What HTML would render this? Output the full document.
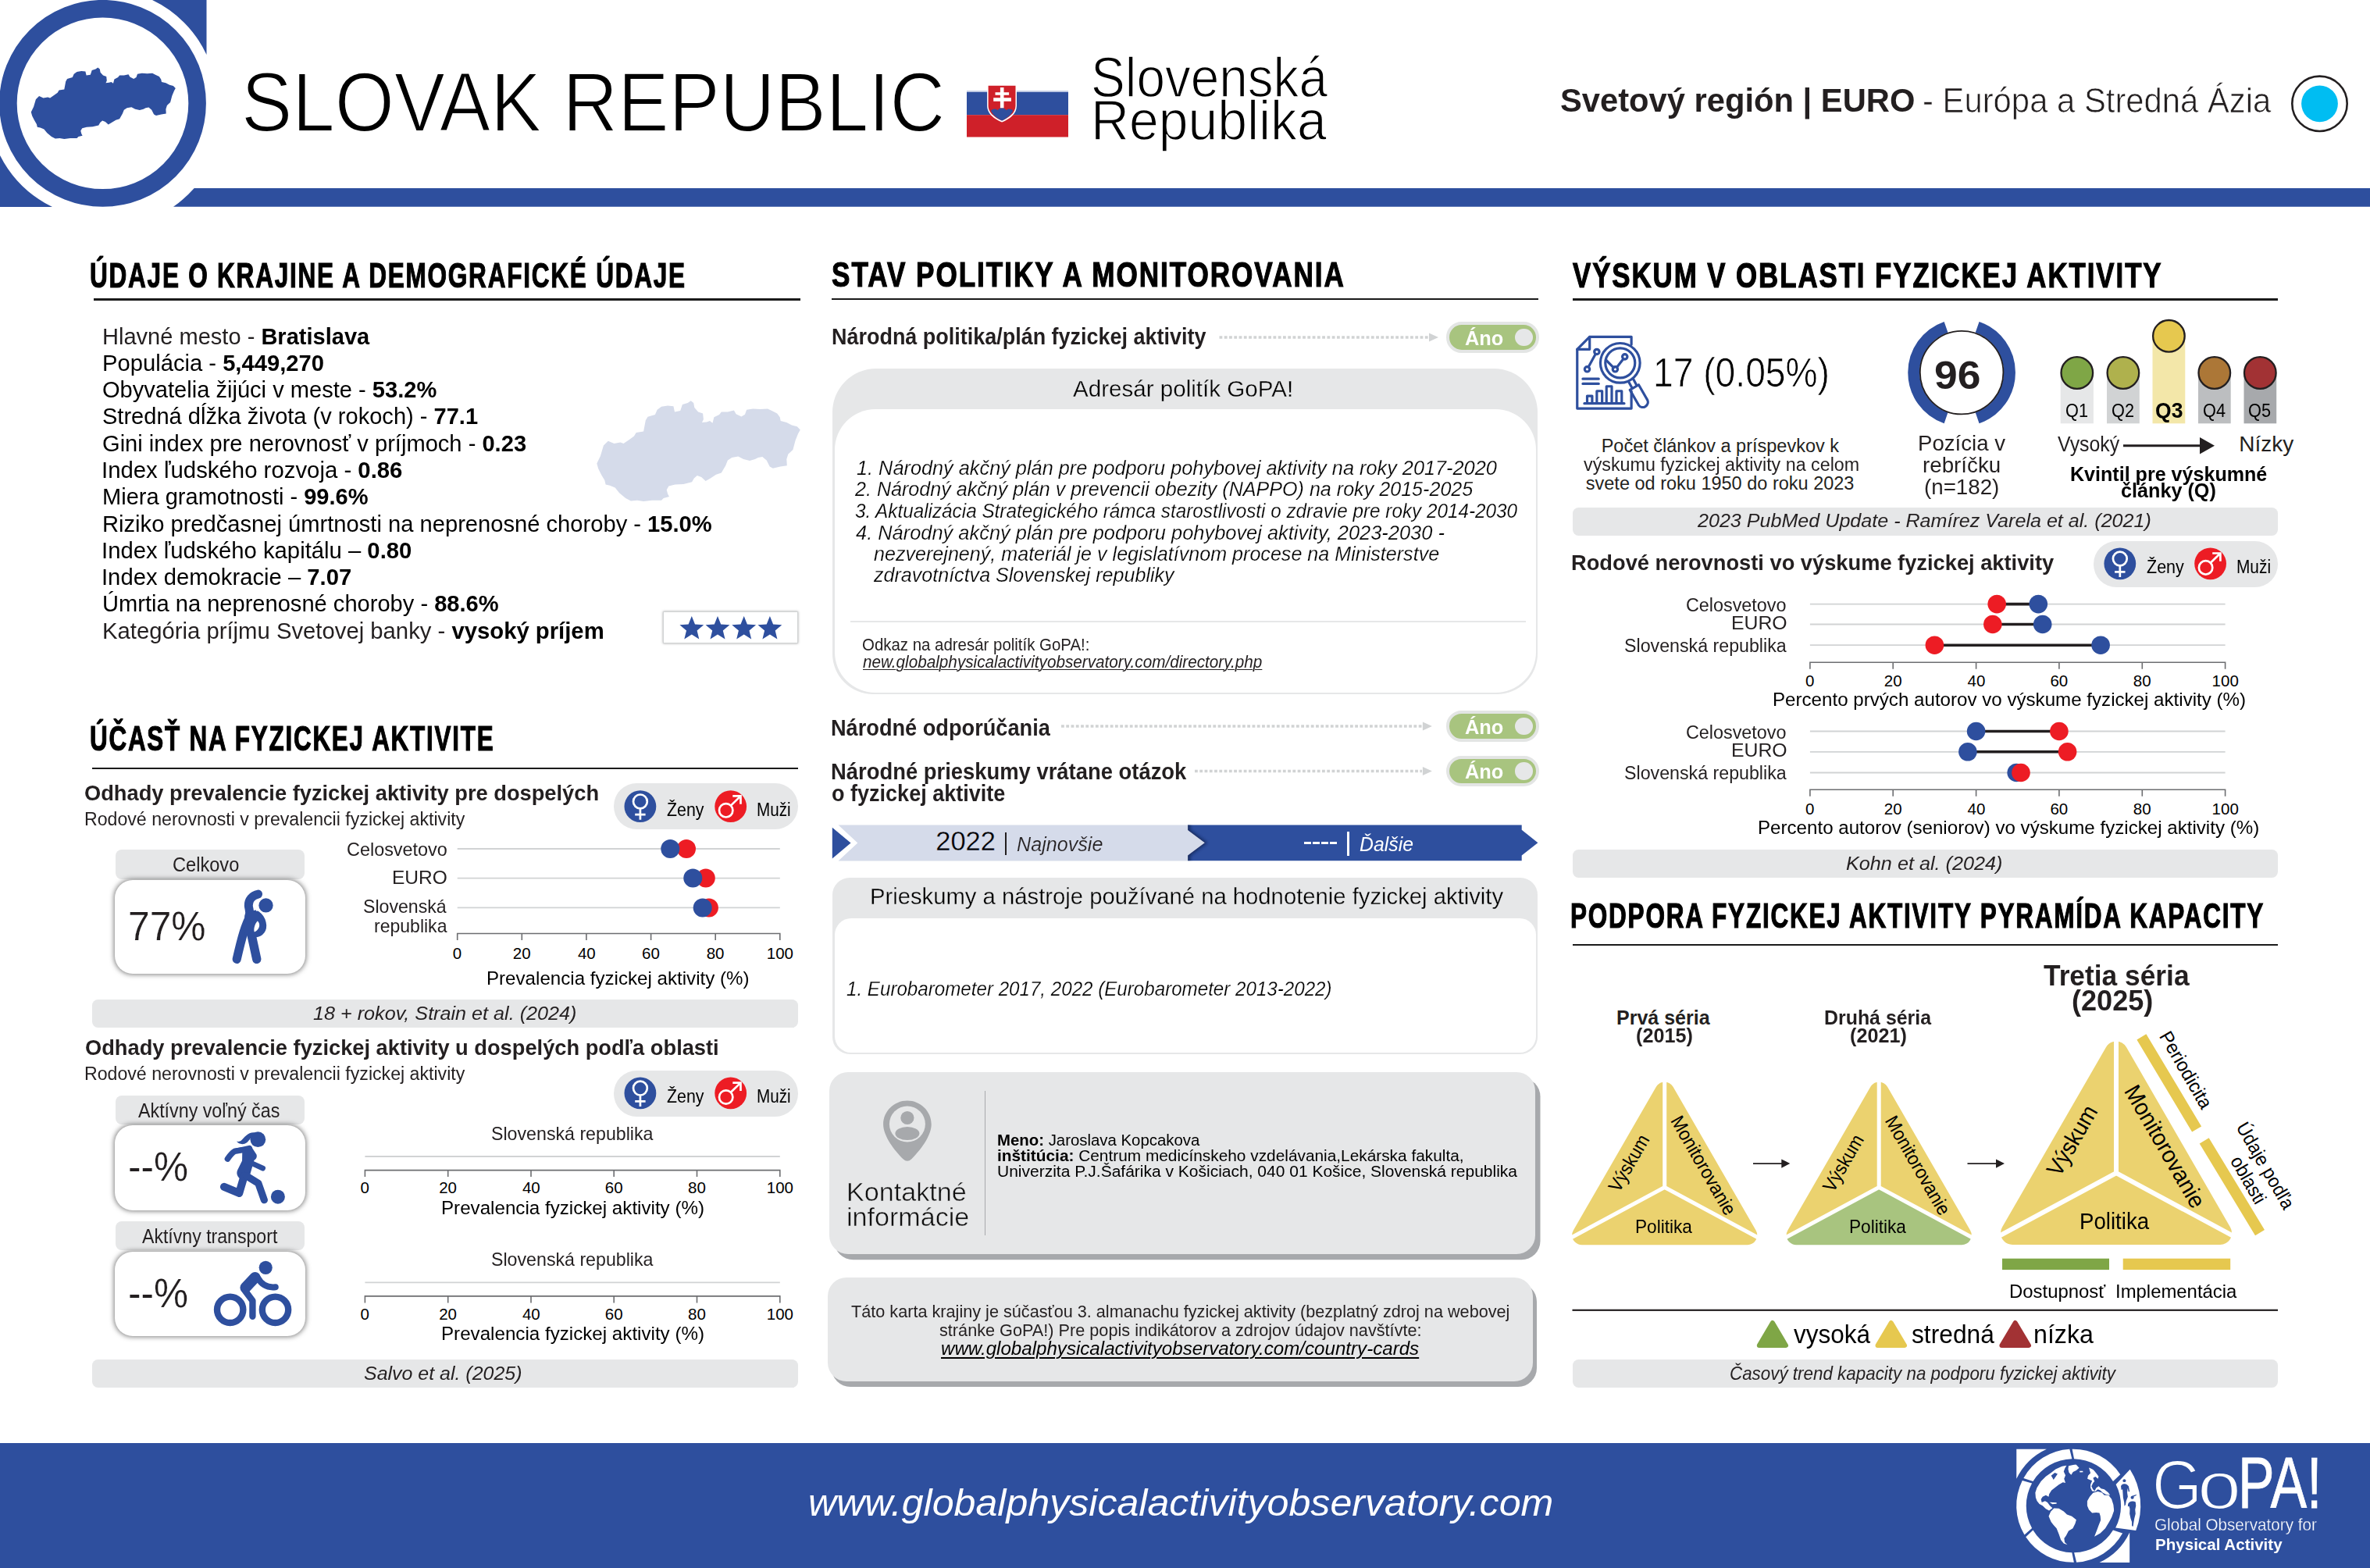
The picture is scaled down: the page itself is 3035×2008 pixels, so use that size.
<!DOCTYPE html>
<html lang="sk"><head><meta charset="utf-8"><title>Slovak Republic - GoPA! Country Card</title>
<style>
html,body{margin:0;padding:0;background:#fff}
body{width:3035px;height:2008px;position:relative;overflow:hidden;font-family:'Liberation Sans',sans-serif;color:#231f20}
.t{position:absolute;white-space:nowrap;line-height:1;transform-origin:0 0}
.b{position:absolute;box-sizing:border-box}
svg{position:absolute;overflow:visible}
</style></head>
<body>
<svg width="3035" height="300" style="left:0;top:0" viewBox="0 0 3035 300">
<path d="M195,0 L264.5,0 L264.5,70 A146,146 0 0 0 195,0Z" fill="#2e4f9e"/>
<path d="M0,199 L0,265 L67,265 A148,148 0 0 1 0,199Z" fill="#2e4f9e"/>
<path d="M248.7,241 L3035,241 L3035,264.85 L222,264.85 A160,160 0 0 0 248.7,241Z" fill="#2e4f9e"/>
<circle cx="131.5" cy="132.3" r="121.1" fill="#fff" stroke="#2e4f9e" stroke-width="22.6"/>
<path d="M39.8,143.5 L43.1,136.8 L45.9,127.3 L50.1,123.1 L55.5,125.4 L61.2,124.4 L64.1,125.4 L69.8,121.5 L73.7,118.7 L75.6,115.4 L82.3,114.4 L84.2,104.3 L86.1,101.0 L92.8,99.1 L94.7,94.7 L98.5,91.9 L104.3,90.9 L109.4,91.5 L110.6,96.6 L115.8,95.7 L117.7,89.9 L122.4,88.4 L125.3,86.5 L127.8,88.4 L128.6,92.8 L132.0,96.6 L136.2,98.0 L136.8,103.3 L135.5,106.2 L139.7,105.8 L142.5,104.9 L145.0,106.8 L146.4,101.4 L151.1,99.1 L153.1,96.6 L158.8,96.6 L164.5,95.3 L166.4,98.6 L171.2,100.9 L174.5,98.9 L176.0,94.7 L181.8,93.8 L188.5,94.2 L195.1,93.8 L199.0,95.7 L203.8,98.0 L206.2,101.4 L207.0,104.9 L212.4,106.2 L217.1,108.7 L221.9,110.0 L224.8,112.9 L222.9,116.4 L220.4,122.5 L218.1,131.1 L213.9,134.9 L212.4,139.7 L212.7,145.5 L206.6,146.4 L199.9,147.9 L197.1,146.4 L194.2,140.7 L190.4,137.4 L186.5,138.2 L183.7,139.7 L178.9,141.1 L173.1,139.7 L168.4,137.2 L162.6,138.2 L158.8,140.7 L156.9,145.5 L153.1,152.2 L148.3,153.7 L142.5,157.3 L138.7,159.4 L134.9,156.0 L131.1,154.6 L128.2,156.9 L126.3,160.4 L118.6,162.3 L111.0,162.7 L105.2,164.2 L103.3,167.5 L104.3,171.3 L105.6,173.8 L100.4,175.1 L98.5,177.0 L89.9,177.0 L82.3,178.0 L76.5,177.0 L70.8,177.6 L66.0,175.1 L60.3,170.3 L56.4,165.6 L51.7,163.6 L47.8,162.7 L46.9,158.9 L44.0,154.1 L41.1,148.3Z" fill="#2e4f9e"/>
<rect x="1238" y="116.2" width="130" height="2" fill="#b9c4e0"/>
<rect x="1238" y="118" width="130" height="29.3" fill="#2e4f9e"/>
<rect x="1238" y="147.2" width="130" height="28.3" fill="#cf2029"/>
<path d="M1264.1,109.7 H1302 V135.5 C1302,146 1292.5,152.5 1283.1,156.6 C1273.6,152.5 1264.1,146 1264.1,135.5Z" fill="#fff"/>
<path d="M1265.6,109.7 H1300.5 V135.5 C1300.5,144.8 1291.6,150.8 1283.1,154.6 C1274.5,150.8 1265.6,144.8 1265.6,135.5Z" fill="#cf2029"/>
<path d="M1269,141.8 C1271,139 1275.5,139 1277.6,141.2 C1279.6,137.2 1286.4,137.2 1288.5,141.2 C1290.6,139 1295,139 1297.2,141.8 C1294.5,147.8 1289,151.8 1283.1,154.6 C1277.2,151.8 1271.6,147.8 1269,141.8Z" fill="#2e4f9e"/>
<path d="M1280.9,111.9 h4.6 v6.4 h6.6 v3.4 h-6.6 v3.5 h9.4 v4.6 h-9.4 v8.4 h-4.6 v-8.4 h-8.7 v-4.6 h8.7 v-3.5 h-6.4 v-3.4 h6.4z" fill="#fff"/>
<circle cx="2970.5" cy="132.8" r="35.2" fill="#fff" stroke="#231f20" stroke-width="2.6"/>
<circle cx="2970.5" cy="132.8" r="23.4" fill="#00bdf2"/>
</svg>
<div class="t" style="left:308.78px;top:77.14px;font-size:108.16px;color:#000;transform:scaleX(0.9049);-webkit-text-stroke:2.0px #fff;">SLOVAK REPUBLIC</div>
<div class="t" style="left:1396.60px;top:62.11px;font-size:73.0px;color:#000;transform:scaleX(0.8994);-webkit-text-stroke:1.4px #fff;">Slovenská</div>
<div class="t" style="left:1396.73px;top:117.21px;font-size:73.0px;color:#000;transform:scaleX(0.9292);-webkit-text-stroke:1.4px #fff;">Republika</div>
<div class="t" style="left:1998.12px;top:108.42px;font-size:42.5px;font-weight:bold;transform:scaleX(0.9813);">Svetový región | EURO</div>
<div class="t" style="left:2461.63px;top:107.73px;font-size:43.5px;transform:scaleX(0.9613);-webkit-text-stroke:0.7px #fff;">- Európa a Stredná Ázia</div>
<div class="t" style="left:115.07px;top:331.33px;font-size:44.5px;font-weight:bold;color:#000;transform:scaleX(0.7085);letter-spacing:2.5px;-webkit-text-stroke:1.2px #000;">ÚDAJE O KRAJINE A DEMOGRAFICKÉ ÚDAJE</div>
<div class="b" style="left:120.3px;top:382.2px;width:904.7px;height:2.4px;background:#1a1a1a"></div>
<svg width="3035" height="2008" style="left:0;top:0" viewBox="0 0 3035 2008"><path d="M764.3,593.5 L768.9,584.1 L772.9,570.6 L778.8,564.7 L786.4,567.9 L794.5,566.6 L798.5,567.9 L806.6,562.5 L812.0,558.5 L814.7,553.9 L824.1,552.5 L826.8,538.3 L829.5,533.7 L838.9,531.0 L841.6,524.8 L847.0,520.7 L855.1,519.4 L862.4,520.2 L864.0,527.5 L871.2,526.1 L873.9,518.1 L880.7,515.9 L884.7,513.2 L888.2,515.9 L889.3,522.1 L894.1,527.5 L900.1,529.4 L900.9,536.9 L899.0,541.0 L904.9,540.4 L909.0,539.1 L912.5,541.8 L914.4,534.2 L921.1,531.0 L923.8,527.5 L931.9,527.5 L939.9,525.6 L942.6,530.2 L949.4,533.4 L954.0,530.7 L956.1,524.8 L964.2,523.4 L973.6,524.0 L983.0,523.4 L988.4,526.1 L995.2,529.4 L998.7,534.2 L999.7,539.1 L1007.3,541.0 L1014.0,544.5 L1020.8,546.3 L1024.8,550.4 L1022.1,555.2 L1018.6,563.9 L1015.4,576.0 L1009.4,581.4 L1007.3,588.1 L1007.8,596.2 L999.2,597.5 L989.8,599.7 L985.7,597.5 L981.7,589.5 L976.3,584.9 L970.9,586.0 L966.9,588.1 L960.1,590.0 L952.1,588.1 L945.3,584.6 L937.2,586.0 L931.9,589.5 L929.2,596.2 L923.8,605.6 L917.0,607.8 L909.0,612.9 L903.6,615.9 L898.2,611.0 L892.8,609.1 L888.8,612.4 L886.1,617.2 L875.3,619.9 L864.5,620.4 L856.4,622.6 L853.7,627.2 L855.1,632.6 L857.0,636.1 L849.7,638.0 L847.0,640.7 L834.9,640.7 L824.1,642.0 L816.0,640.7 L807.9,641.5 L801.2,638.0 L793.1,631.2 L787.7,624.5 L781.0,621.8 L775.6,620.4 L774.3,615.1 L770.2,608.3 L766.2,600.2Z" fill="#d5dbea"/></svg>
<div class="t" style="left:130.87px;top:416.69px;font-size:28.6px;transform:scaleX(1.0158);">Hlavné mesto - <b style="color:#000">Bratislava</b></div>
<div class="t" style="left:130.86px;top:450.79px;font-size:28.6px;color:#000;transform:scaleX(1.0207);">Populácia - <b>5,449,270</b></div>
<div class="t" style="left:130.88px;top:485.09px;font-size:28.6px;color:#000;transform:scaleX(1.0169);">Obyvatelia žijúci v meste - <b>53.2%</b></div>
<div class="t" style="left:131.28px;top:519.39px;font-size:28.6px;color:#000;transform:scaleX(1.0157);">Stredná dĺžka života (v rokoch) - <b>77.1</b></div>
<div class="t" style="left:131.28px;top:553.69px;font-size:28.6px;color:#000;transform:scaleX(1.0177);">Gini index pre nerovnosť v príjmoch - <b>0.23</b></div>
<div class="t" style="left:129.82px;top:587.99px;font-size:28.6px;color:#000;transform:scaleX(1.0264);">Index ľudského rozvoja - <b>0.86</b></div>
<div class="t" style="left:130.87px;top:622.29px;font-size:28.6px;color:#000;transform:scaleX(1.0156);">Miera gramotnosti - <b>99.6%</b></div>
<div class="t" style="left:130.86px;top:656.59px;font-size:28.6px;color:#000;transform:scaleX(1.0191);">Riziko predčasnej úmrtnosti na neprenosné choroby - <b>15.0%</b></div>
<div class="t" style="left:129.83px;top:690.89px;font-size:28.6px;color:#000;transform:scaleX(1.0232);">Index ľudského kapitálu – <b>0.80</b></div>
<div class="t" style="left:129.83px;top:725.19px;font-size:28.6px;color:#000;transform:scaleX(1.0227);">Index demokracie – <b>7.07</b></div>
<div class="t" style="left:130.87px;top:759.49px;font-size:28.6px;color:#000;transform:scaleX(1.0171);">Úmrtia na neprenosné choroby - <b>88.6%</b></div>
<div class="t" style="left:130.85px;top:793.89px;font-size:28.6px;transform:scaleX(1.0237);">Kategória príjmu Svetovej banky - <b style="color:#000">vysoký príjem</b></div>
<div class="b" style="left:849.4px;top:782.6px;width:173px;height:41px;background:#fff;border:1px solid #d1d3d4;box-shadow:0 0 3px rgba(0,0,0,0.35)"></div>
<svg width="3035" height="2008" style="left:0;top:0" viewBox="0 0 3035 2008"><polygon points="885.8,789.1 890.0,799.5 901.2,800.3 892.6,807.5 895.3,818.4 885.8,812.4 876.3,818.4 879.0,807.5 870.4,800.3 881.6,799.5" fill="#2e4f9e"/><polygon points="919.0,789.1 923.2,799.5 934.4,800.3 925.8,807.5 928.5,818.4 919.0,812.4 909.5,818.4 912.2,807.5 903.6,800.3 914.8,799.5" fill="#2e4f9e"/><polygon points="952.7,789.1 956.9,799.5 968.1,800.3 959.5,807.5 962.2,818.4 952.7,812.4 943.2,818.4 945.9,807.5 937.3,800.3 948.5,799.5" fill="#2e4f9e"/><polygon points="985.9,789.1 990.1,799.5 1001.3,800.3 992.7,807.5 995.4,818.4 985.9,812.4 976.4,818.4 979.1,807.5 970.5,800.3 981.7,799.5" fill="#2e4f9e"/></svg>
<div class="t" style="left:115.38px;top:923.63px;font-size:44.5px;font-weight:bold;color:#000;transform:scaleX(0.7061);letter-spacing:2.5px;-webkit-text-stroke:1.2px #000;">ÚČASŤ NA FYZICKEJ AKTIVITE</div>
<div class="b" style="left:118.3px;top:982.5px;width:903.7px;height:2.4px;background:#1a1a1a"></div>
<div class="t" style="left:108.43px;top:1001.60px;font-size:28px;font-weight:bold;transform:scaleX(0.9736);">Odhady prevalencie fyzickej aktivity pre dospelých</div>
<div class="t" style="left:107.99px;top:1038.03px;font-size:23px;transform:scaleX(1.0058);">Rodové nerovnosti v prevalencii fyzickej aktivity</div>
<div class="b" style="left:785.8px;top:1003.4px;width:236.2px;height:58.6px;background:#e6e7e8;border-radius:29.3px"></div>
<svg width="236.2" height="58.6" style="left:785.8px;top:1003.4px" viewBox="785.8 1003.4 236.2 58.6"><circle cx="819.7" cy="1033.1" r="20.4" fill="#2e4f9e"/><g transform="translate(819.7,1033.1)"><circle cx="0" cy="-6.3" r="8.9" fill="none" stroke="#fff" stroke-width="2.7"/><path d="M0,2.6 V17.1 M-6.7,10.5 H6.7" stroke="#fff" stroke-width="2.7" fill="none"/></g><circle cx="935.5" cy="1033.1" r="20.4" fill="#ed1c24"/><g transform="translate(935.5,1033.1)"><circle cx="-6" cy="5.1" r="8.7" fill="none" stroke="#fff" stroke-width="2.7"/><path d="M0.2,-1.1 L12.3,-12.8 M2.6,-13.3 H12.8 V-3" stroke="#fff" stroke-width="2.7" fill="none"/></g></svg>
<div class="t" style="left:853.97px;top:1025.83px;font-size:23px;color:#000;transform:scaleX(0.9280);">Ženy</div>
<div class="t" style="left:969.10px;top:1025.83px;font-size:23px;color:#000;transform:scaleX(0.8978);">Muži</div>
<div class="b" style="left:147.5px;top:1088.1px;width:242.5px;height:37.7px;background:#e6e7e8;border-radius:8px"></div>
<div class="b" style="left:147.0px;top:1127px;width:243.5px;height:120.4px;background:#fff;border-radius:23px;box-shadow:0 0 6px 0.5px rgba(0,0,0,0.5)"></div>
<div class="t" style="left:221.16px;top:1095.14px;font-size:25px;transform:scaleX(0.9443);">Celkovo</div>
<div class="t" style="left:163.82px;top:1160.96px;font-size:51.79px;transform:scaleX(0.9596);-webkit-text-stroke:0.2px #fff;">77%</div>
<svg width="3035" height="2008" style="left:0;top:0" viewBox="0 0 3035 2008"><line x1="585.7" y1="1087" x2="998.8" y2="1087" stroke="#d1d3d4" stroke-width="1.8"/><line x1="585.7" y1="1124.6" x2="998.8" y2="1124.6" stroke="#d1d3d4" stroke-width="1.8"/><line x1="585.7" y1="1162.4" x2="998.8" y2="1162.4" stroke="#d1d3d4" stroke-width="1.8"/><path d="M585.7,1204.0 V1195.5 H998.8 V1204.0 M668.3,1195.5 V1204.0 M750.9,1195.5 V1204.0 M833.6,1195.5 V1204.0 M916.2,1195.5 V1204.0" fill="none" stroke="#6d6e71" stroke-width="1.6"/><circle cx="879.0" cy="1087" r="12" fill="#ed1c24"/><circle cx="858.3" cy="1087" r="12" fill="#2e4f9e"/><circle cx="903.8" cy="1124.6" r="12" fill="#ed1c24"/><circle cx="887.3" cy="1124.6" r="12" fill="#2e4f9e"/><circle cx="907.9" cy="1162.4" r="12" fill="#ed1c24"/><circle cx="899.7" cy="1162.4" r="12" fill="#2e4f9e"/></svg>
<div class="t" style="left:579.70px;top:1211.35px;font-size:20.5px;color:#000;">0</div>
<div class="t" style="left:656.82px;top:1211.35px;font-size:20.5px;color:#000;">20</div>
<div class="t" style="left:739.94px;top:1211.35px;font-size:20.5px;color:#000;">40</div>
<div class="t" style="left:822.06px;top:1211.35px;font-size:20.5px;color:#000;">60</div>
<div class="t" style="left:904.68px;top:1211.35px;font-size:20.5px;color:#000;">80</div>
<div class="t" style="left:981.80px;top:1211.35px;font-size:20.5px;color:#000;">100</div>
<div class="t" style="left:443.92px;top:1075.78px;font-size:24px;transform:scaleX(0.9754);">Celosvetovo</div>
<div class="t" style="left:501.65px;top:1111.88px;font-size:24px;transform:scaleX(1.0227);">EURO</div>
<div class="t" style="left:464.84px;top:1149.08px;font-size:24px;transform:scaleX(0.9627);">Slovenská</div>
<div class="t" style="left:478.64px;top:1173.88px;font-size:24px;transform:scaleX(0.9594);">republika</div>
<div class="t" style="left:622.63px;top:1241.06px;font-size:24.5px;color:#000;transform:scaleX(0.9846);">Prevalencia fyzickej aktivity (%)</div>
<div class="b" style="left:118.2px;top:1280.0px;width:903.8px;height:36.3px;background:#e6e7e8;border-radius:7.5px"></div>
<div class="t" style="left:400.67px;top:1286.06px;font-size:24.5px;font-style:italic;transform:scaleX(1.0273);">18 + rokov, Strain et al. (2024)</div>
<div class="t" style="left:108.83px;top:1328.10px;font-size:28px;font-weight:bold;transform:scaleX(0.9733);">Odhady prevalencie fyzickej aktivity u dospelých podľa oblasti</div>
<div class="t" style="left:107.99px;top:1364.23px;font-size:23px;transform:scaleX(1.0058);">Rodové nerovnosti v prevalencii fyzickej aktivity</div>
<div class="b" style="left:785.8px;top:1370.9px;width:236.2px;height:58.7px;background:#e6e7e8;border-radius:29.3px"></div>
<svg width="236.2" height="58.7" style="left:785.8px;top:1370.9px" viewBox="785.8 1370.9 236.2 58.7"><circle cx="819.7" cy="1399.8" r="20.4" fill="#2e4f9e"/><g transform="translate(819.7,1399.8)"><circle cx="0" cy="-6.3" r="8.9" fill="none" stroke="#fff" stroke-width="2.7"/><path d="M0,2.6 V17.1 M-6.7,10.5 H6.7" stroke="#fff" stroke-width="2.7" fill="none"/></g><circle cx="935.5" cy="1399.8" r="20.4" fill="#ed1c24"/><g transform="translate(935.5,1399.8)"><circle cx="-6" cy="5.1" r="8.7" fill="none" stroke="#fff" stroke-width="2.7"/><path d="M0.2,-1.1 L12.3,-12.8 M2.6,-13.3 H12.8 V-3" stroke="#fff" stroke-width="2.7" fill="none"/></g></svg>
<div class="t" style="left:853.97px;top:1392.53px;font-size:23px;color:#000;transform:scaleX(0.9280);">Ženy</div>
<div class="t" style="left:969.10px;top:1392.53px;font-size:23px;color:#000;transform:scaleX(0.8978);">Muži</div>
<div class="b" style="left:147.5px;top:1402.5px;width:242.5px;height:37.5px;background:#e6e7e8;border-radius:8px"></div>
<div class="b" style="left:147.0px;top:1441.2px;width:243.5px;height:108.5px;background:#fff;border-radius:23px;box-shadow:0 0 6px 0.5px rgba(0,0,0,0.5)"></div>
<div class="t" style="left:177.30px;top:1409.54px;font-size:25px;transform:scaleX(0.9304);">Aktívny voľný čas</div>
<div class="t" style="left:164.29px;top:1468.86px;font-size:51.79px;transform:scaleX(0.9571);-webkit-text-stroke:0.2px #fff;">--%</div>
<div class="b" style="left:147.5px;top:1564px;width:242.5px;height:37.3px;background:#e6e7e8;border-radius:8px"></div>
<div class="b" style="left:147.0px;top:1602.5px;width:243.5px;height:108.3px;background:#fff;border-radius:23px;box-shadow:0 0 6px 0.5px rgba(0,0,0,0.5)"></div>
<div class="t" style="left:181.50px;top:1570.64px;font-size:25px;transform:scaleX(0.9239);">Aktívny transport</div>
<div class="t" style="left:164.29px;top:1630.56px;font-size:51.79px;transform:scaleX(0.9571);-webkit-text-stroke:0.2px #fff;">--%</div>
<svg width="3035" height="2008" style="left:0;top:0" viewBox="0 0 3035 2008"><line x1="467.4" y1="1481" x2="998.8" y2="1481" stroke="#d1d3d4" stroke-width="1.8"/><path d="M467.4,1507.1 V1498.6 H998.8 V1507.1 M573.7,1498.6 V1507.1 M680.0,1498.6 V1507.1 M786.2,1498.6 V1507.1 M892.5,1498.6 V1507.1" fill="none" stroke="#6d6e71" stroke-width="1.6"/></svg>
<div class="t" style="left:461.40px;top:1511.05px;font-size:20.5px;color:#000;">0</div>
<div class="t" style="left:562.18px;top:1511.05px;font-size:20.5px;color:#000;">20</div>
<div class="t" style="left:668.96px;top:1511.05px;font-size:20.5px;color:#000;">40</div>
<div class="t" style="left:774.74px;top:1511.05px;font-size:20.5px;color:#000;">60</div>
<div class="t" style="left:881.02px;top:1511.05px;font-size:20.5px;color:#000;">80</div>
<div class="t" style="left:981.80px;top:1511.05px;font-size:20.5px;color:#000;">100</div>
<div class="t" style="left:629.03px;top:1440.28px;font-size:24px;transform:scaleX(0.9659);">Slovenská republika</div>
<div class="t" style="left:564.73px;top:1534.96px;font-size:24.5px;color:#000;transform:scaleX(0.9861);">Prevalencia fyzickej aktivity (%)</div>
<svg width="3035" height="2008" style="left:0;top:0" viewBox="0 0 3035 2008"><line x1="467.4" y1="1642.3" x2="998.8" y2="1642.3" stroke="#d1d3d4" stroke-width="1.8"/><path d="M467.4,1668.4 V1659.9 H998.8 V1668.4 M573.7,1659.9 V1668.4 M680.0,1659.9 V1668.4 M786.2,1659.9 V1668.4 M892.5,1659.9 V1668.4" fill="none" stroke="#6d6e71" stroke-width="1.6"/></svg>
<div class="t" style="left:461.40px;top:1672.75px;font-size:20.5px;color:#000;">0</div>
<div class="t" style="left:562.18px;top:1672.75px;font-size:20.5px;color:#000;">20</div>
<div class="t" style="left:668.96px;top:1672.75px;font-size:20.5px;color:#000;">40</div>
<div class="t" style="left:774.74px;top:1672.75px;font-size:20.5px;color:#000;">60</div>
<div class="t" style="left:881.02px;top:1672.75px;font-size:20.5px;color:#000;">80</div>
<div class="t" style="left:981.80px;top:1672.75px;font-size:20.5px;color:#000;">100</div>
<div class="t" style="left:629.03px;top:1601.48px;font-size:24px;transform:scaleX(0.9659);">Slovenská republika</div>
<div class="t" style="left:564.73px;top:1696.16px;font-size:24.5px;color:#000;transform:scaleX(0.9861);">Prevalencia fyzickej aktivity (%)</div>
<div class="b" style="left:118.2px;top:1740.6px;width:903.8px;height:36.3px;background:#e6e7e8;border-radius:7.5px"></div>
<div class="t" style="left:466.38px;top:1746.66px;font-size:24.5px;font-style:italic;transform:scaleX(1.0183);">Salvo et al. (2025)</div>
<svg width="3035" height="2008" style="left:0;top:0" viewBox="0 0 3035 2008"><g transform="translate(140,1080) scale(0.111588)"><circle cx="1797" cy="712" r="82" fill="#2e4f9e"/>
<g fill="none" stroke="#2e4f9e" stroke-linecap="round" stroke-linejoin="round">
<path d="M1708,583 C1640,595 1595,650 1598,715 C1600,760 1625,790 1600,840" stroke-width="98"/>
<path d="M1625,820 C1560,930 1520,1080 1462,1330" stroke-width="100"/>
<path d="M1620,1000 L1692,1330" stroke-width="102"/>
<path d="M1700,810 C1770,860 1790,960 1750,1010 C1735,1030 1710,1043 1688,1045" stroke-width="64"/>
</g>
<path d="M1600,790 L1680,765 L1760,900 L1745,1000 L1690,1060 L1560,1060 L1540,980Z" fill="#2e4f9e"/>
<path d="M1700,892 C1725,910 1730,950 1710,980 C1695,1003 1675,1015 1665,1017 C1655,990 1665,930 1700,892Z" fill="#fff"/></g></svg>
<svg width="3035" height="2008" style="left:0;top:0" viewBox="0 0 3035 2008"><g transform="translate(140,1395) scale(0.109704)"><circle cx="1735" cy="585" r="90" fill="#2e4f9e"/>
<circle cx="1968" cy="1255" r="82" fill="#2e4f9e"/>
<path d="M1700,505 C1620,495 1580,560 1540,598 C1520,613 1500,612 1485,607 C1510,642 1565,652 1605,622 C1635,598 1640,572 1665,560Z" fill="#2e4f9e"/>
<path d="M1470,690 L1635,655 C1655,655 1665,670 1672,690 L1718,762 C1728,790 1715,815 1690,830 L1640,1005 L1530,1045 C1495,1020 1480,985 1495,945 L1550,835 L1552,730Z" fill="#2e4f9e"/>
<g fill="none" stroke="#2e4f9e" stroke-linecap="round" stroke-linejoin="round">
<path d="M1560,708 L1465,722 Q1425,745 1380,812" stroke-width="68"/>
<path d="M1675,868 L1792,922" stroke-width="62"/>
<path d="M1575,1010 L1515,1212 L1340,1138" stroke-width="92"/>
<path d="M1600,1010 L1740,1098 L1808,1292" stroke-width="84"/>
</g></g></svg>
<svg width="3035" height="2008" style="left:0;top:0" viewBox="0 0 3035 2008"><g transform="translate(140,1555) scale(0.109704)"><circle cx="1825" cy="623" r="78" fill="#2e4f9e"/>
<g fill="none" stroke="#2e4f9e" stroke-linecap="round" stroke-linejoin="round">
<circle cx="1410" cy="1115" r="152" stroke-width="76"/>
<circle cx="1937" cy="1115" r="152" stroke-width="76"/>
<path d="M1702,738 L1590,855" stroke-width="128"/>
<path d="M1575,880 L1672,1010 L1672,1192" stroke-width="76"/>
<path d="M1735,745 Q1800,865 1940,850" stroke-width="72"/>
</g></g></svg>
<div class="t" style="left:1065.01px;top:330.23px;font-size:44.5px;font-weight:bold;color:#000;transform:scaleX(0.7888);letter-spacing:2.5px;-webkit-text-stroke:1.2px #000;">STAV POLITIKY A MONITOROVANIA</div>
<div class="b" style="left:1065px;top:382.0px;width:904.6px;height:2.4px;background:#1a1a1a"></div>
<div class="t" style="left:1064.67px;top:416.23px;font-size:29.5px;font-weight:bold;transform:scaleX(0.9138);">Národná politika/plán fyzickej aktivity</div>
<svg width="3035" height="2008" style="left:0;top:0" viewBox="0 0 3035 2008"><line x1="1561.5" y1="432" x2="1829" y2="432" stroke="#d1d3d4" stroke-width="3.6" stroke-dasharray="3.8 2.47"/><path d="M1830,426.5 L1842,432 L1830,437.5Z" fill="#d1d3d4"/><line x1="1359" y1="930" x2="1820.9" y2="930" stroke="#d1d3d4" stroke-width="3.6" stroke-dasharray="3.8 2.47"/><path d="M1821.9,924.5 L1833.9,930 L1821.9,935.5Z" fill="#d1d3d4"/><line x1="1530" y1="987.5" x2="1820.9" y2="987.5" stroke="#d1d3d4" stroke-width="3.6" stroke-dasharray="3.8 2.47"/><path d="M1821.9,982.0 L1833.9,987.5 L1821.9,993.0Z" fill="#d1d3d4"/></svg>
<div class="b" style="left:1852.1px;top:412.2px;width:118.7px;height:39.7px;background:#a8c47f;border:4px solid #e3e5e4;border-radius:19.8px"></div>
<div class="b" style="left:1940.1px;top:420.7px;width:22.6px;height:22.6px;border-radius:50%;background:#e6e7e8"></div>
<div class="t" style="left:1876.22px;top:419.99px;font-size:26px;font-weight:bold;color:#fff;transform:scaleX(0.9755);">Áno</div>
<div class="b" style="left:1066.3px;top:472.1px;width:902.5px;height:417.3px;background:#e6e7e8;border-radius:56px 56px 52px 52px"></div>
<div class="b" style="left:1068.5px;top:524px;width:898.1px;height:363.2px;background:#fff;border-radius:52px"></div>
<div class="t" style="left:1374.05px;top:482.61px;font-size:29.93px;color:#000;transform:scaleX(0.9887);-webkit-text-stroke:0.3px #e6e7e8;">Adresár politík GoPA!</div>
<div class="t" style="left:1097.40px;top:587.13px;font-size:25.86px;font-style:italic;color:#000;transform:scaleX(0.9782);-webkit-text-stroke:0.25px #fff;">1. Národný akčný plán pre podporu pohybovej aktivity na roky 2017-2020</div>
<div class="t" style="left:1095.47px;top:614.33px;font-size:25.86px;font-style:italic;color:#000;transform:scaleX(0.9709);-webkit-text-stroke:0.25px #fff;">2. Národný akčný plán v prevencii obezity (NAPPO) na roky 2015-2025</div>
<div class="t" style="left:1094.74px;top:642.33px;font-size:25.86px;font-style:italic;color:#000;transform:scaleX(0.9390);-webkit-text-stroke:0.25px #fff;">3. Aktualizácia Strategického rámca starostlivosti o zdravie pre roky 2014-2030</div>
<div class="t" style="left:1095.67px;top:669.83px;font-size:25.86px;font-style:italic;color:#000;transform:scaleX(0.9827);-webkit-text-stroke:0.25px #fff;">4. Národný akčný plán pre podporu pohybovej aktivity, 2023-2030 -</div>
<div class="t" style="left:1118.88px;top:696.93px;font-size:25.86px;font-style:italic;color:#000;transform:scaleX(0.9708);-webkit-text-stroke:0.25px #fff;">nezverejnený, materiál je v legislatívnom procese na Ministerstve</div>
<div class="t" style="left:1118.88px;top:724.13px;font-size:25.86px;font-style:italic;color:#000;transform:scaleX(0.9695);-webkit-text-stroke:0.25px #fff;">zdravotníctva Slovenskej republiky</div>
<div class="b" style="left:1089.4px;top:795.2px;width:864.8px;height:2px;background:#e6e7e8"></div>
<div class="t" style="left:1103.85px;top:816.20px;font-size:21.5px;transform:scaleX(0.9500);">Odkaz na adresár politík GoPA!:</div>
<div class="t" style="left:1104.80px;top:837.90px;font-size:21.5px;font-style:italic;transform:scaleX(0.9630);text-decoration:underline;text-decoration-thickness:1.3px;text-underline-offset:2px;">new.globalphysicalactivityobservatory.com/directory.php</div>
<div class="t" style="left:1063.66px;top:916.63px;font-size:29.5px;font-weight:bold;transform:scaleX(0.9211);">Národné odporúčania</div>
<div class="b" style="left:1852.1px;top:910.4px;width:118.7px;height:39.3px;background:#a8c47f;border:4px solid #e3e5e4;border-radius:19.7px"></div>
<div class="b" style="left:1940.1px;top:918.8px;width:22.6px;height:22.6px;border-radius:50%;background:#e6e7e8"></div>
<div class="t" style="left:1876.22px;top:917.79px;font-size:26px;font-weight:bold;color:#fff;transform:scaleX(0.9755);">Áno</div>
<div class="t" style="left:1063.64px;top:972.53px;font-size:29.5px;font-weight:bold;transform:scaleX(0.9289);">Národné prieskumy vrátane otázok</div>
<div class="t" style="left:1064.58px;top:1001.23px;font-size:29.5px;font-weight:bold;transform:scaleX(0.9162);">o fyzickej aktivite</div>
<div class="b" style="left:1852.1px;top:967.9px;width:118.7px;height:38.9px;background:#a8c47f;border:4px solid #e3e5e4;border-radius:19.4px"></div>
<div class="b" style="left:1940.1px;top:976.0px;width:22.6px;height:22.6px;border-radius:50%;background:#e6e7e8"></div>
<div class="t" style="left:1876.22px;top:975.19px;font-size:26px;font-weight:bold;color:#fff;transform:scaleX(0.9755);">Áno</div>
<svg width="3035" height="2008" style="left:0;top:0" viewBox="0 0 3035 2008">
<defs><filter id="sh" x="-50%" y="-50%" width="200%" height="200%"><feGaussianBlur stdDeviation="2.2"/></filter>
<clipPath id="tlc"><path d="M1521.1,1056.5 H1948.7 V1102.3 H1521.1Z"/></clipPath></defs>
<path d="M1948.7,1056.5 V1062.8 L1969.4,1079.3 L1948.7,1095.5 V1102.3 H1521.1 V1056.5Z" fill="#2e4f9e"/>
<g clip-path="url(#tlc)"><path d="M1515,1052 H1524 V1063 L1545.8,1079.3 L1524,1095.5 V1107 H1515Z" fill="#101c44" opacity="0.75" filter="url(#sh)"/></g>
<path d="M1073.5,1056.6 H1521.1 V1063 L1542.8,1079.3 L1521.1,1095.5 V1102.6 H1073.5 L1098.3,1079.5Z" fill="#d5dbea"/>
<path d="M1065.8,1059.8 L1089.5,1079.5 L1065.8,1099.5Z" fill="#2e4f9e"/>
</svg>
<div class="t" style="left:1198.25px;top:1060.21px;font-size:34.43px;color:#000;-webkit-text-stroke:0.3px #d5dbea;">2022</div>
<div class="b" style="left:1286.6px;top:1065.5px;width:2.6px;height:29.7px;background:#231f20"></div>
<div class="t" style="left:1301.94px;top:1067.85px;font-size:26.29px;font-style:italic;transform:scaleX(0.9566);-webkit-text-stroke:0.2px #d5dbea;">Najnovšie</div>
<div class="b" style="left:1669.8px;top:1078.4px;width:42.4px;height:2.6px;background:repeating-linear-gradient(90deg,#fff 0 8.9px,transparent 8.9px 11.1px)"></div>
<div class="b" style="left:1724.8px;top:1064.9px;width:2.8px;height:31px;background:#fff"></div>
<div class="t" style="left:1740.61px;top:1068.54px;font-size:25px;font-style:italic;color:#fff;transform:scaleX(0.9926);">Ďalšie</div>
<div class="b" style="left:1066.3px;top:1124.3px;width:902.5px;height:225.6px;background:#e6e7e8;border-radius:22px"></div>
<div class="b" style="left:1068.5px;top:1175.7px;width:898.1px;height:172.2px;background:#fff;border-radius:21px"></div>
<div class="t" style="left:1114.10px;top:1133.11px;font-size:29.93px;color:#000;transform:scaleX(0.9772);-webkit-text-stroke:0.3px #e6e7e8;">Prieskumy a nástroje používané na hodnotenie fyzickej aktivity</div>
<div class="t" style="left:1083.54px;top:1254.33px;font-size:25.86px;font-style:italic;color:#000;transform:scaleX(0.9339);-webkit-text-stroke:0.25px #fff;">1. Eurobarometer 2017, 2022 (Eurobarometer 2013-2022)</div>
<div class="b" style="left:1062.3px;top:1373.1px;width:904.1px;height:232.9px;background:#e6e7e8;border-radius:24px;box-shadow:6.5px 7.3px 0 #a7a9ac"></div>
<svg width="70" height="86" style="left:1127px;top:1405px" viewBox="1127 1405 70 86">
<path d="M1161.9,1409.5 C1144.9,1409.5 1131.1,1423 1131.1,1440 C1131.1,1455 1146,1474 1156.5,1484.2 Q1161.9,1489.5 1167.3,1484.2 C1177.8,1474 1192.7,1455 1192.7,1440 C1192.7,1423 1178.9,1409.5 1161.9,1409.5Z" fill="#a7a9ac"/>
<circle cx="1161.9" cy="1439.5" r="23" fill="#e6e7e8"/>
<circle cx="1161.9" cy="1431.5" r="8.6" fill="#a7a9ac"/>
<ellipse cx="1161.9" cy="1451.5" rx="15.5" ry="8.6" fill="#a7a9ac"/>
</svg>
<div class="t" style="left:1084.46px;top:1510.14px;font-size:33.21px;color:#111;transform:scaleX(1.0290);-webkit-text-stroke:0.5px #e6e7e8;">Kontaktné</div>
<div class="t" style="left:1083.50px;top:1541.74px;font-size:33.21px;color:#111;transform:scaleX(1.0267);-webkit-text-stroke:0.5px #e6e7e8;">informácie</div>
<div class="b" style="left:1260.7px;top:1396.6px;width:1.8px;height:185px;background:#a7a9ac"></div>
<div class="t" style="left:1276.81px;top:1450.15px;font-size:20.5px;color:#000;transform:scaleX(0.9938);"><b>Meno:</b> Jaroslava Kopcakova</div>
<div class="t" style="left:1276.78px;top:1470.35px;font-size:20.5px;color:#000;transform:scaleX(1.0164);"><b>inštitúcia:</b> Centrum medicínskeho vzdelávania,Lekárska fakulta,</div>
<div class="t" style="left:1276.78px;top:1490.25px;font-size:20.5px;color:#000;transform:scaleX(1.0242);">Univerzita P.J.Šafárika v Košiciach, 040 01 Košice, Slovenská republika</div>
<div class="b" style="left:1060.3px;top:1636.4px;width:903.2px;height:132.8px;background:#e6e7e8;border-radius:24px;box-shadow:5px 7px 0 #a7a9ac"></div>
<div class="t dv" style="left:1089.80px;top:1668.75px;font-size:22.5px;transform:scaleX(0.9624);">Táto karta krajiny je súčasťou 3. almanachu fyzickej aktivity (bezplatný zdroj na webovej</div>
<div class="t dv" style="left:1203.04px;top:1693.05px;font-size:22.5px;transform:scaleX(0.9632);">stránke GoPA!) Pre popis indikátorov a zdrojov údajov navštívte:</div>
<div class="t" style="left:1205.12px;top:1714.86px;font-size:24.5px;font-style:italic;color:#000;transform:scaleX(0.9845);text-decoration:underline;text-decoration-thickness:1.6px;text-underline-offset:2.5px;">www.globalphysicalactivityobservatory.com/country-cards</div>
<div class="t" style="left:2013.80px;top:330.73px;font-size:44.5px;font-weight:bold;color:#000;transform:scaleX(0.7821);letter-spacing:2.5px;-webkit-text-stroke:1.2px #000;">VÝSKUM V OBLASTI FYZICKEJ AKTIVITY</div>
<div class="b" style="left:2013.8px;top:382.3px;width:903.2px;height:2.4px;background:#1a1a1a"></div>
<svg width="3035" height="2008" style="left:0;top:0" viewBox="0 0 3035 2008"><g transform="translate(2005,415) scale(0.079745)">
<g fill="none" stroke="#2e4f9e" stroke-width="40" stroke-linejoin="round" stroke-linecap="round">
<path d="M1055,330 V205 H385 L185,405 V1355 H1055 V1080"/>
<path d="M385,205 V405 H185"/>
<circle cx="875" cy="625" r="318"/>
<circle cx="875" cy="625" r="238"/>
<path d="M1010,925 L1062,1018 M1090,890 L1140,985"/>
<path d="M1032,1058 L1172,975 L1312,1218 A82,82 0 0 1 1172,1302 Z"/>
<path d="M275,880 H530 M275,958 H530"/>
<path d="M300,1275 H940"/>
<path d="M345,1270 V1155 H425 V1270 M500,1270 V1075 H585 V1270 M655,1270 V1000 H740 V1270 M815,1270 V1075 H900 V1270"/>
<path d="M365,690 L480,480"/>
<path d="M650,580 L770,700 M820,695 L925,560"/>
<circle cx="345" cy="725" r="40"/><circle cx="500" cy="445" r="40"/>
<circle cx="795" cy="725" r="40"/><circle cx="950" cy="525" r="40"/>
</g></g></svg>
<div class="t" style="left:2116.83px;top:450.51px;font-size:52.5px;color:#000;transform:scaleX(0.8800);-webkit-text-stroke:0.7px #fff;">17 (0.05%)</div>
<svg width="3035" height="2008" style="left:0;top:0" viewBox="0 0 3035 2008">
<path d="M2532.1,419.0 A61.5,61.5 0 0 1 2532.1,535.2" fill="none" stroke="#2e4f9e" stroke-width="15"/>
<path d="M2492.1,535.2 A61.5,61.5 0 0 1 2492.1,419.0" fill="none" stroke="#2e4f9e" stroke-width="15"/>
<circle cx="2512.1" cy="477.1" r="53.3" fill="#fff" stroke="#231f20" stroke-width="1.8"/>
</svg>
<div class="t" style="left:2477.47px;top:456.07px;font-size:50px;font-weight:bold;transform:scaleX(1.0673);">96</div>
<svg width="3035" height="2008" style="left:0;top:0" viewBox="0 0 3035 2008"><rect x="2638.7" y="477.5" width="42.2" height="64.8" fill="#e6e7e8"/><circle cx="2659.8" cy="477.5" r="20.3" fill="#7fa646" stroke="#231f20" stroke-width="2.3"/><rect x="2698" y="477.5" width="41.8" height="64.8" fill="#d1d3d4"/><circle cx="2718.9" cy="477.5" r="20.3" fill="#afb14d" stroke="#231f20" stroke-width="2.3"/><rect x="2756.5" y="430.3" width="41.8" height="112.0" fill="#f3e7a9"/><circle cx="2777.4" cy="430.3" r="20.3" fill="#e6c84f" stroke="#231f20" stroke-width="2.3"/><rect x="2815" y="477.5" width="41.7" height="64.8" fill="#bcbec0"/><circle cx="2835.8" cy="477.5" r="20.3" fill="#ac7737" stroke="#231f20" stroke-width="2.3"/><rect x="2873.5" y="477.5" width="41.7" height="64.8" fill="#a7a9ac"/><circle cx="2894.3" cy="477.5" r="20.3" fill="#a23234" stroke="#231f20" stroke-width="2.3"/><path d="M2719,570.7 H2820" stroke="#231f20" stroke-width="3" fill="none"/><path d="M2817,560 L2836,570.7 L2817,581.4Z" fill="#231f20"/></svg>
<div class="t" style="left:2644.66px;top:513.66px;font-size:24.5px;color:#000;transform:scaleX(0.8871);">Q1</div>
<div class="t" style="left:2703.76px;top:513.66px;font-size:24.5px;color:#000;transform:scaleX(0.8871);">Q2</div>
<div class="t" style="left:2759.72px;top:510.97px;font-size:28.5px;font-weight:bold;color:#000;transform:scaleX(0.9306);">Q3</div>
<div class="t" style="left:2820.71px;top:513.66px;font-size:24.5px;color:#000;transform:scaleX(0.8871);">Q4</div>
<div class="t" style="left:2879.21px;top:513.66px;font-size:24.5px;color:#000;transform:scaleX(0.8871);">Q5</div>
<div class="t" style="left:2050.70px;top:559.51px;font-size:23.5px;">Počet článkov a príspevkov k</div>
<div class="t" style="left:2027.60px;top:583.71px;font-size:23.5px;transform:scaleX(0.9907);">výskumu fyzickej aktivity na celom</div>
<div class="t" style="left:2030.80px;top:608.41px;font-size:23.5px;">svete od roku 1950 do roku 2023</div>
<div class="t" style="left:2455.83px;top:553.60px;font-size:28px;transform:scaleX(0.9865);">Pozícia v</div>
<div class="t" style="left:2462.12px;top:582.00px;font-size:28px;transform:scaleX(0.9907);">rebríčku</div>
<div class="t" style="left:2464.22px;top:610.00px;font-size:28px;transform:scaleX(0.9904);">(n=182)</div>
<div class="t" style="left:2634.50px;top:554.90px;font-size:28px;transform:scaleX(0.8876);">Vysoký</div>
<div class="t" style="left:2867.30px;top:554.90px;font-size:28px;">Nízky</div>
<div class="t" style="left:2650.89px;top:595.04px;font-size:25px;font-weight:bold;color:#000;transform:scaleX(1.0032);">Kvintil pre výskumné</div>
<div class="t" style="left:2715.79px;top:615.94px;font-size:25px;font-weight:bold;color:#000;transform:scaleX(1.0076);">články (Q)</div>
<div class="b" style="left:2014.0px;top:649.6px;width:903.3px;height:36.3px;background:#e6e7e8;border-radius:7.5px"></div>
<div class="t" style="left:2173.80px;top:655.16px;font-size:24.5px;font-style:italic;transform:scaleX(1.0244);">2023 PubMed Update - Ramírez Varela et al. (2021)</div>
<div class="t" style="left:2012.05px;top:707.20px;font-size:28px;font-weight:bold;transform:scaleX(0.9736);">Rodové nerovnosti vo výskume fyzickej aktivity</div>
<div class="b" style="left:2681.3px;top:693.4px;width:236.0px;height:58.4px;background:#e6e7e8;border-radius:29.2px"></div>
<svg width="236.0" height="58.4" style="left:2681.3px;top:693.4px" viewBox="2681.3 693.4 236.0 58.4"><circle cx="2715.1" cy="722.2" r="20.4" fill="#2e4f9e"/><g transform="translate(2715.1,722.2)"><circle cx="0" cy="-6.3" r="8.9" fill="none" stroke="#fff" stroke-width="2.7"/><path d="M0,2.6 V17.1 M-6.7,10.5 H6.7" stroke="#fff" stroke-width="2.7" fill="none"/></g><circle cx="2830.9" cy="722.2" r="20.4" fill="#ed1c24"/><g transform="translate(2830.9,722.2)"><circle cx="-6" cy="5.1" r="8.7" fill="none" stroke="#fff" stroke-width="2.7"/><path d="M0.2,-1.1 L12.3,-12.8 M2.6,-13.3 H12.8 V-3" stroke="#fff" stroke-width="2.7" fill="none"/></g></svg>
<div class="t" style="left:2748.96px;top:714.63px;font-size:23px;color:#000;transform:scaleX(0.9360);">Ženy</div>
<div class="t" style="left:2864.39px;top:714.63px;font-size:23px;color:#000;transform:scaleX(0.9067);">Muži</div>
<svg width="3035" height="2008" style="left:0;top:0" viewBox="0 0 3035 2008"><line x1="2317.9" y1="773.6" x2="2849.6" y2="773.6" stroke="#d1d3d4" stroke-width="1.8"/><line x1="2317.9" y1="799.5" x2="2849.6" y2="799.5" stroke="#d1d3d4" stroke-width="1.8"/><line x1="2317.9" y1="826.2" x2="2849.6" y2="826.2" stroke="#d1d3d4" stroke-width="1.8"/><path d="M2317.9,856.8 V848.3 H2849.6 V856.8 M2424.2,848.3 V856.8 M2530.6,848.3 V856.8 M2636.9,848.3 V856.8 M2743.3,848.3 V856.8" fill="none" stroke="#6d6e71" stroke-width="1.6"/><line x1="2610.3" y1="773.6" x2="2557.2" y2="773.6" stroke="#231f20" stroke-width="3.6"/><circle cx="2557.2" cy="773.6" r="11.8" fill="#ed1c24"/><circle cx="2610.3" cy="773.6" r="11.8" fill="#2e4f9e"/><line x1="2615.7" y1="799.5" x2="2551.8" y2="799.5" stroke="#231f20" stroke-width="3.6"/><circle cx="2551.8" cy="799.5" r="11.8" fill="#ed1c24"/><circle cx="2615.7" cy="799.5" r="11.8" fill="#2e4f9e"/><line x1="2690.1" y1="826.2" x2="2477.4" y2="826.2" stroke="#231f20" stroke-width="3.6"/><circle cx="2477.4" cy="826.2" r="11.8" fill="#ed1c24"/><circle cx="2690.1" cy="826.2" r="11.8" fill="#2e4f9e"/></svg>
<div class="t" style="left:2311.90px;top:861.85px;font-size:20.5px;color:#000;">0</div>
<div class="t" style="left:2412.74px;top:861.85px;font-size:20.5px;color:#000;">20</div>
<div class="t" style="left:2519.58px;top:861.85px;font-size:20.5px;color:#000;">40</div>
<div class="t" style="left:2625.42px;top:861.85px;font-size:20.5px;color:#000;">60</div>
<div class="t" style="left:2731.76px;top:861.85px;font-size:20.5px;color:#000;">80</div>
<div class="t" style="left:2832.60px;top:861.85px;font-size:20.5px;color:#000;">100</div>
<div class="t" style="left:2159.48px;top:763.63px;font-size:23px;transform:scaleX(1.0152);">Celosvetovo</div>
<div class="t" style="left:2217.34px;top:787.43px;font-size:23px;transform:scaleX(1.0778);">EURO</div>
<div class="t" style="left:2079.59px;top:815.93px;font-size:23px;transform:scaleX(1.0088);">Slovenská republika</div>
<div class="t" style="left:2270.03px;top:884.36px;font-size:24.5px;color:#000;transform:scaleX(0.9848);">Percento prvých autorov vo výskume fyzickej aktivity (%)</div>
<svg width="3035" height="2008" style="left:0;top:0" viewBox="0 0 3035 2008"><line x1="2317.9" y1="936.5" x2="2849.6" y2="936.5" stroke="#d1d3d4" stroke-width="1.8"/><line x1="2317.9" y1="962.8" x2="2849.6" y2="962.8" stroke="#d1d3d4" stroke-width="1.8"/><line x1="2317.9" y1="989.5" x2="2849.6" y2="989.5" stroke="#d1d3d4" stroke-width="1.8"/><path d="M2317.9,1019.7 V1011.2 H2849.6 V1019.7 M2424.2,1011.2 V1019.7 M2530.6,1011.2 V1019.7 M2636.9,1011.2 V1019.7 M2743.3,1011.2 V1019.7" fill="none" stroke="#6d6e71" stroke-width="1.6"/><line x1="2530.6" y1="936.5" x2="2636.9" y2="936.5" stroke="#231f20" stroke-width="3.6"/><circle cx="2530.6" cy="936.5" r="11.8" fill="#2e4f9e"/><circle cx="2636.9" cy="936.5" r="11.8" fill="#ed1c24"/><line x1="2519.9" y1="962.8" x2="2647.6" y2="962.8" stroke="#231f20" stroke-width="3.6"/><circle cx="2519.9" cy="962.8" r="11.8" fill="#2e4f9e"/><circle cx="2647.6" cy="962.8" r="11.8" fill="#ed1c24"/><circle cx="2582.2" cy="989.5" r="11.8" fill="#2e4f9e"/><circle cx="2588.0" cy="989.5" r="11.8" fill="#ed1c24"/></svg>
<div class="t" style="left:2311.90px;top:1025.65px;font-size:20.5px;color:#000;">0</div>
<div class="t" style="left:2412.74px;top:1025.65px;font-size:20.5px;color:#000;">20</div>
<div class="t" style="left:2519.58px;top:1025.65px;font-size:20.5px;color:#000;">40</div>
<div class="t" style="left:2625.42px;top:1025.65px;font-size:20.5px;color:#000;">60</div>
<div class="t" style="left:2731.76px;top:1025.65px;font-size:20.5px;color:#000;">80</div>
<div class="t" style="left:2832.60px;top:1025.65px;font-size:20.5px;color:#000;">100</div>
<div class="t" style="left:2159.48px;top:926.53px;font-size:23px;transform:scaleX(1.0152);">Celosvetovo</div>
<div class="t" style="left:2217.34px;top:950.43px;font-size:23px;transform:scaleX(1.0778);">EURO</div>
<div class="t" style="left:2079.59px;top:978.83px;font-size:23px;transform:scaleX(1.0088);">Slovenská republika</div>
<div class="t" style="left:2251.23px;top:1047.66px;font-size:24.5px;color:#000;transform:scaleX(0.9847);">Percento autorov (seniorov) vo výskume fyzickej aktivity (%)</div>
<div class="b" style="left:2014.0px;top:1087.7px;width:903.3px;height:36.3px;background:#e6e7e8;border-radius:7.5px"></div>
<div class="t" style="left:2363.67px;top:1094.06px;font-size:24.5px;font-style:italic;transform:scaleX(1.0292);">Kohn et al. (2024)</div>
<div class="t" style="left:2011.38px;top:1150.53px;font-size:44.5px;font-weight:bold;color:#000;transform:scaleX(0.7082);letter-spacing:2.5px;-webkit-text-stroke:1.2px #000;">PODPORA FYZICKEJ AKTIVITY PYRAMÍDA KAPACITY</div>
<div class="b" style="left:2013.5px;top:1209.1px;width:903.5px;height:2.4px;background:#1a1a1a"></div>
<svg width="3035" height="2008" style="left:0;top:0" viewBox="0 0 3035 2008"><mask id="pm1" maskUnits="userSpaceOnUse" x="1876.2999999999997" y="1323.0171118734545" width="510.8" height="321.18288812654566"><polygon points="2131.7,1398.0 2237.7,1581.7 2025.7,1581.7" fill="#fff" stroke="#fff" stroke-width="25.0" stroke-linejoin="round"/><path d="M2131.7,1353.0171118734545 L2131.7,1520.472370624485 L1831.6999999999998,1682.0 M2131.7,1520.472370624485 L2431.7,1682.0" stroke="#000" stroke-width="5" fill="none" stroke-linejoin="miter"/></mask><g mask="url(#pm1)"><polygon points="2131.7,1343.0171118734545 2131.7,1520.472370624485 1831.6999999999998,1682.0 1831.6999999999998,1343.0171118734545" fill="#ebd26f"/><polygon points="2131.7,1343.0171118734545 2131.7,1520.472370624485 2431.7,1682.0 2431.7,1343.0171118734545" fill="#ebd26f"/><polygon points="2131.7,1520.472370624485 2431.7,1682.0 2431.7,1624.2 1831.6999999999998,1624.2 1831.6999999999998,1682.0" fill="#ebd26f"/></g><mask id="pm2" maskUnits="userSpaceOnUse" x="2150.7999999999997" y="1323.0171118734545" width="510.8" height="321.18288812654566"><polygon points="2406.2,1398.0 2512.2,1581.7 2300.2,1581.7" fill="#fff" stroke="#fff" stroke-width="25.0" stroke-linejoin="round"/><path d="M2406.2,1353.0171118734545 L2406.2,1520.472370624485 L2106.2,1682.0 M2406.2,1520.472370624485 L2706.2,1682.0" stroke="#000" stroke-width="5" fill="none" stroke-linejoin="miter"/></mask><g mask="url(#pm2)"><polygon points="2406.2,1343.0171118734545 2406.2,1520.472370624485 2106.2,1682.0 2106.2,1343.0171118734545" fill="#ebd26f"/><polygon points="2406.2,1343.0171118734545 2406.2,1520.472370624485 2706.2,1682.0 2706.2,1343.0171118734545" fill="#ebd26f"/><polygon points="2406.2,1520.472370624485 2706.2,1682.0 2706.2,1624.2 2106.2,1624.2 2106.2,1682.0" fill="#a8c47f"/></g><mask id="pm3" maskUnits="userSpaceOnUse" x="2392" y="1268.6039215965484" width="636" height="375.3960784034515"><polygon points="2710.0,1348.6 2843.0,1579.0 2577.0,1579.0" fill="#fff" stroke="#fff" stroke-width="30" stroke-linejoin="round"/><path d="M2710,1298.6039215965484 L2710,1502.2013071988495 L2410,1663.7 M2710,1502.2013071988495 L3010,1663.7" stroke="#000" stroke-width="6" fill="none" stroke-linejoin="miter"/></mask><g mask="url(#pm3)"><polygon points="2710,1288.6039215965484 2710,1502.2013071988495 2410,1663.7 2410,1288.6039215965484" fill="#ebd26f"/><polygon points="2710,1288.6039215965484 2710,1502.2013071988495 3010,1663.7 3010,1288.6039215965484" fill="#ebd26f"/><polygon points="2710,1502.2013071988495 3010,1663.7 3010,1624 2410,1624 2410,1663.7" fill="#ebd26f"/></g><path d="M2245,1490.1 H2284 M2519.5,1490.1 H2558" stroke="#231f20" stroke-width="1.9" fill="none"/><path d="M2281.3,1484.4 L2292.3,1490.1 L2281.3,1495.8Z M2556,1484.4 L2567,1490.1 L2556,1495.8Z" fill="#231f20"/><path d="M2742.4,1327.9 L2813.1,1446 M2822.7,1460.8 L2894,1578.6" stroke="#e6c84f" stroke-width="14" fill="none"/><rect x="2564" y="1611.7" width="137" height="14.4" fill="#7fa646"/><rect x="2718.7" y="1611.7" width="137.5" height="14.4" fill="#e6c84f"/><rect x="2013.5" y="1676.7" width="903.5" height="2.2" fill="#231f20"/><polygon points="2269.9,1694 2287,1723 2252.8,1723" fill="#7fa646" stroke="#7fa646" stroke-width="6" stroke-linejoin="round"/><polygon points="2421.75,1694 2439,1723 2404.5,1723" fill="#e6c84f" stroke="#e6c84f" stroke-width="6" stroke-linejoin="round"/><polygon points="2580.7,1694 2598,1723 2563.4,1723" fill="#a23234" stroke="#a23234" stroke-width="6" stroke-linejoin="round"/><text x="0" y="0" transform="translate(2093.2,1493.6) rotate(-60)" text-anchor="middle" font-family="Liberation Sans, sans-serif" font-size="24.5" font-weight="normal" fill="#000" textLength="80" lengthAdjust="spacingAndGlyphs">Výskum</text><text x="0" y="0" transform="translate(2174.2,1496.6) rotate(60)" text-anchor="middle" font-family="Liberation Sans, sans-serif" font-size="24.5" font-weight="normal" fill="#000" textLength="142" lengthAdjust="spacingAndGlyphs">Monitorovanie</text><text x="0" y="0" transform="translate(2367.7,1493.6) rotate(-60)" text-anchor="middle" font-family="Liberation Sans, sans-serif" font-size="24.5" font-weight="normal" fill="#000" textLength="80" lengthAdjust="spacingAndGlyphs">Výskum</text><text x="0" y="0" transform="translate(2448.7,1496.6) rotate(60)" text-anchor="middle" font-family="Liberation Sans, sans-serif" font-size="24.5" font-weight="normal" fill="#000" textLength="142" lengthAdjust="spacingAndGlyphs">Monitorovanie</text><text x="0" y="0" transform="translate(2662.3,1465.7) rotate(-60)" text-anchor="middle" font-family="Liberation Sans, sans-serif" font-size="30" font-weight="normal" fill="#000" textLength="99" lengthAdjust="spacingAndGlyphs">Výskum</text><text x="0" y="0" transform="translate(2763.6,1473.2) rotate(60)" text-anchor="middle" font-family="Liberation Sans, sans-serif" font-size="30" font-weight="normal" fill="#000" textLength="176" lengthAdjust="spacingAndGlyphs">Monitorovanie</text><text x="0" y="0" transform="translate(2792.1,1374.3) rotate(60)" text-anchor="middle" font-family="Liberation Sans, sans-serif" font-size="24.5" font-weight="normal" fill="#000" textLength="110" lengthAdjust="spacingAndGlyphs">Periodicita</text><text x="0" y="0" transform="translate(2894,1496.9) rotate(60)" text-anchor="middle" font-family="Liberation Sans, sans-serif" font-size="24.5" font-weight="normal" fill="#000" textLength="124" lengthAdjust="spacingAndGlyphs">Údaje podľa</text><text x="0" y="0" transform="translate(2872.1,1515.2) rotate(60)" text-anchor="middle" font-family="Liberation Sans, sans-serif" font-size="24.5" font-weight="normal" fill="#000" textLength="66" lengthAdjust="spacingAndGlyphs">oblasti</text></svg>
<div class="t" style="left:2070.00px;top:1291.24px;font-size:25px;font-weight:bold;">Prvá séria</div>
<div class="t" style="left:2094.99px;top:1313.84px;font-size:25px;font-weight:bold;transform:scaleX(1.0071);">(2015)</div>
<div class="t" style="left:2336.21px;top:1291.24px;font-size:25px;font-weight:bold;transform:scaleX(0.9963);">Druhá séria</div>
<div class="t" style="left:2369.29px;top:1313.84px;font-size:25px;font-weight:bold;transform:scaleX(1.0071);">(2021)</div>
<div class="t" style="left:2617.40px;top:1232.43px;font-size:36px;font-weight:bold;transform:scaleX(0.9811);">Tretia séria</div>
<div class="t" style="left:2653.49px;top:1263.83px;font-size:36px;font-weight:bold;transform:scaleX(1.0030);">(2025)</div>
<div class="t" style="left:2093.85px;top:1558.76px;font-size:24.5px;color:#000;transform:scaleX(0.9234);">Politika</div>
<div class="t" style="left:2368.35px;top:1558.76px;font-size:24.5px;color:#000;transform:scaleX(0.9234);">Politika</div>
<div class="t" style="left:2663.43px;top:1549.44px;font-size:29.6px;color:#000;transform:scaleX(0.9340);">Politika</div>
<div class="t" style="left:2572.85px;top:1642.06px;font-size:24.5px;color:#000;transform:scaleX(0.9760);">Dostupnosť</div>
<div class="t" style="left:2708.95px;top:1642.06px;font-size:24.5px;color:#000;transform:scaleX(0.9752);">Implementácia</div>
<div class="t" style="left:2296.80px;top:1690.82px;font-size:34px;color:#000;transform:scaleX(0.9264);">vysoká</div>
<div class="t" style="left:2447.57px;top:1690.82px;font-size:34px;color:#000;transform:scaleX(0.9336);">stredná</div>
<div class="t" style="left:2604.21px;top:1690.82px;font-size:34px;color:#000;transform:scaleX(0.9468);">nízka</div>
<div class="b" style="left:2013.7px;top:1740.6px;width:903.5px;height:36.3px;background:#e6e7e8;border-radius:7.5px"></div>
<div class="t" style="left:2214.67px;top:1747.08px;font-size:24px;font-style:italic;transform:scaleX(0.9328);">Časový trend kapacity na podporu fyzickej aktivity</div>
<div class="b" style="left:0;top:1847.8px;width:3035px;height:161px;background:#2e4f9e"></div>
<div class="t" style="left:1034.95px;top:1899.72px;font-size:49px;font-style:italic;color:#fff;transform:scaleX(1.0226);">www.globalphysicalactivityobservatory.com</div>
<svg width="3035" height="2008" style="left:0;top:0" viewBox="0 0 3035 2008"><g transform="translate(2570,1845) scale(0.103950)"><path d="M118,103 L490,103 A770,770 0 0 0 118,470Z" fill="#fff"/><path d="M1512,1130 L1512,1500 L1140,1500 A770,770 0 0 0 1512,1130Z" fill="#fff"/><path d="M804.0,103.1 A698,698 0 0 1 1397.1,415.7 L1308.0,501.2 A577,577 0 0 0 828.1,224.1Z" fill="#fff"/><path d="M1424.9,1140.5 A698,698 0 0 1 857.6,1497.7 L828.1,1377.9 A577,577 0 0 0 1308.0,1100.8Z" fill="#fff"/><path d="M826.0,1498.9 A698,698 0 0 1 232.9,1186.3 L322.0,1100.8 A577,577 0 0 0 801.9,1377.9Z" fill="#fff"/><path d="M216.1,1159.5 A698,698 0 0 1 190.3,489.6 L308.9,523.9 A577,577 0 0 0 308.9,1078.1Z" fill="#fff"/><path d="M205.1,461.5 A698,698 0 0 1 772.4,104.3 L801.9,224.1 A577,577 0 0 0 322.0,501.2Z" fill="#fff"/><path d="M1516.7,354.0 A832,832 0 0 1 1589.1,1105.9 L1338.3,1073.4 A590,590 0 0 0 1343.0,537.7Z" fill="#fff"/><g fill="#2e4f9e">
<circle cx="1447" cy="492" r="19"/>
<path d="M1412,545 Q1445,520 1480,540 L1500,560 L1512,625 L1500,630 L1488,585 L1482,640 L1490,690 L1470,740 L1462,790 L1448,805 L1445,760 L1432,700 L1428,640 L1425,600 L1410,605 L1405,560Z"/>
<circle cx="1545" cy="700" r="20"/>
<path d="M1535,682 L1600,662 L1590,675 L1560,690Z"/>
<path d="M1505,760 Q1545,735 1585,755 L1590,800 L1580,850 L1585,900 L1570,960 L1560,1020 L1555,1055 L1540,1050 L1540,1000 L1525,960 L1512,900 L1515,840 L1505,805 L1490,810 L1492,780Z"/>
</g><clipPath id="gl"><circle cx="815" cy="801" r="510"/></clipPath><g fill="#fff" clip-path="url(#gl)">
<path d="M350,640 L370,580 L420,500 L480,440 L545,395 L600,350 L680,315 L735,305 L715,340 L700,380 L722,425 L705,470 L722,520 L690,512 L640,540 L590,580 L550,612 L520,660 L515,690 L480,672 L440,690 L420,722 L430,760 L470,742 L500,760 L530,800 L562,830 L520,862 L480,840 L440,800 L400,780 L370,740 L355,700Z"/>
<path d="M545,430 L590,395 L625,410 L600,445 L575,480 L560,455Z" fill="#2e4f9e"/>
<path d="M760,310 L850,290 L890,335 L855,365 L815,385 L792,420 L765,392 L755,350Z"/>
<path d="M895,372 L935,372 L938,388 L900,390Z"/>
<path d="M525,758 L612,762 L612,776 L560,782Z"/>
<path d="M515,930 L540,872 L580,832 L640,835 L700,870 L740,910 L800,930 L855,975 L842,1020 L812,1080 L760,1112 L730,1170 L706,1202 L712,1250 L745,1282 L700,1266 L665,1222 L640,1150 L612,1080 L575,1040 L545,1000Z"/>
<path d="M990,742 L1020,690 L1062,642 L1120,625 L1170,640 L1200,672 L1252,672 L1290,720 L1312,790 L1320,860 L1292,940 L1260,1000 L1212,1080 L1150,1140 L1078,1182 L1110,1100 L1132,1040 L1156,980 L1152,930 L1140,890 L1100,886 L1050,890 L1010,850 L990,800Z"/>
<path d="M1010,330 L1060,352 L1100,400 L1130,440 L1122,470 L1090,442 L1062,460 L1080,500 L1062,520 L1042,560 L1060,600 L1082,618 L1100,582 L1130,560 L1160,590 L1200,600 L1250,640 L1272,672 L1220,662 L1180,640 L1150,612 L1120,600 L1090,626 L1050,620 L1030,580 L1030,540 L1050,492 L1020,480 L992,470 L1000,430 L1030,400Z"/>
</g></g></svg>
<div class="t" style="left:2755.84px;top:1856.73px;font-size:89.86px;color:#fff;transform:scaleX(0.9153);-webkit-text-stroke:2.0px #2e4f9e;">G</div>
<div class="t" style="left:2813.80px;top:1860.12px;font-size:85.86px;color:#fff;transform:scaleX(1.1750);-webkit-text-stroke:2.0px #2e4f9e;">o</div>
<div class="t" style="left:2865.98px;top:1852.78px;font-size:93px;color:#fff;transform:scaleX(0.7520);-webkit-text-stroke:0.8px #fff;">PA!</div>
<div class="t" style="left:2759.41px;top:1941.99px;font-size:21.93px;color:#fff;transform:scaleX(0.9425);-webkit-text-stroke:0.3px #2e4f9e;">Global Observatory for</div>
<div class="t" style="left:2759.52px;top:1966.62px;font-size:21px;font-weight:bold;color:#fff;transform:scaleX(0.9788);">Physical Activity</div>
</body></html>
